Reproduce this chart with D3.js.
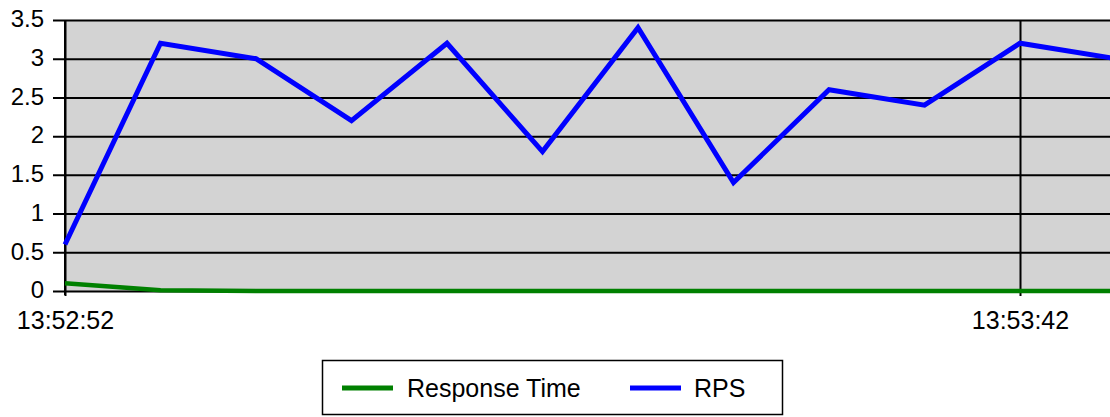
<!DOCTYPE html>
<html>
  <head>
    <meta charset="utf-8">
    <title>Response Time / RPS</title>
    <script src="https://cdn.jsdelivr.net/npm/d3@7/dist/d3.min.js"></script>
    <style>
      body { margin: 0; background: #fff; }
      svg { display: block; font-family: "Liberation Sans", Arial, sans-serif; }
      .grid line { stroke: #000; stroke-width: 2; }
    </style>
  </head>
  <body>
    <svg width="1110" height="417"></svg>
    <script>
      // samples every 5 seconds starting 13:52:52
      var times = ["13:52:52", "13:52:57", "13:53:02", "13:53:07", "13:53:12", "13:53:17",
                   "13:53:22", "13:53:27", "13:53:32", "13:53:37", "13:53:42", "13:53:47"];
      var rps = [0.6, 3.2, 3.0, 2.2, 3.2, 1.8, 3.4, 1.4, 2.6, 2.4, 3.2, 3.0];
      var responseTime = [0.1, 0.01, 0, 0, 0, 0, 0, 0, 0, 0, 0, 0];
      var yTicks = [0, 0.5, 1, 1.5, 2, 2.5, 3, 3.5];
      var xTickLabels = ["13:52:52", "13:53:42"];

      var parse = d3.timeParse("%H:%M:%S");
      var fmt = d3.timeFormat("%H:%M:%S");
      var dates = times.map(parse);

      var svg = d3.select("svg");
      var plotL = 65, plotR = 1115.5, plotT = 20, plotB = 291;

      var x = d3.scaleTime()
          .domain([dates[0], dates[dates.length - 1]])
          .range([plotL, plotR]);
      var y = d3.scaleLinear()
          .domain([0, 3.5])
          .range([plotB, plotT]);

      svg.append("rect")
          .attr("x", plotL).attr("y", plotT)
          .attr("width", plotR - plotL).attr("height", plotB - plotT)
          .attr("fill", "#d3d3d3");

      // horizontal grid + y ticks
      var yAxis = svg.append("g")
          .attr("class", "grid")
          .attr("transform", "translate(" + plotL + ",0)")
          .call(d3.axisLeft(y).tickValues(yTicks).tickSize(-(plotR - plotL)).tickSizeOuter(0).tickFormat(d3.format("")));
      yAxis.select(".domain").remove();
      yAxis.selectAll(".tick line").attr("x1", -12);
      yAxis.selectAll("text")
          .attr("font-size", 24)
          .attr("fill", "#000")
          .attr("dy", "0.28em")
          .attr("x", -21);

      // vertical grid at labelled times + x labels
      var xTicks = xTickLabels.map(parse);
      var xAxis = svg.append("g")
          .attr("class", "grid")
          .attr("transform", "translate(0," + plotB + ")")
          .call(d3.axisBottom(x).tickValues(xTicks).tickSize(5).tickSizeOuter(0).tickFormat(fmt));
      xAxis.select(".domain").remove();
      xAxis.selectAll(".tick line").attr("y1", -(plotB - plotT));
      xAxis.selectAll("text")
          .attr("font-size", 25)
          .attr("fill", "#000")
          .attr("y", 20)
          .attr("dy", "0.71em");

      // left axis line
      svg.append("line")
          .attr("x1", plotL).attr("x2", plotL)
          .attr("y1", plotT).attr("y2", plotB + 4)
          .attr("stroke", "#000").attr("stroke-width", 2);

      var line = function(vals) {
        return d3.line()
            .x(function(d, i) { return x(dates[i]); })
            .y(function(d) { return y(d); })(vals);
      };

      svg.append("path")
          .attr("d", line(responseTime))
          .attr("fill", "none")
          .attr("stroke", "#008000")
          .attr("stroke-width", 4.5);

      svg.append("path")
          .attr("d", line(rps))
          .attr("fill", "none")
          .attr("stroke", "#0000ff")
          .attr("stroke-width", 5)
          .attr("stroke-linejoin", "miter");

      // legend
      var legend = svg.append("g");
      legend.append("rect")
          .attr("x", 322.5).attr("y", 360.5)
          .attr("width", 460).attr("height", 54)
          .attr("fill", "#fff")
          .attr("stroke", "#000").attr("stroke-width", 1.5);

      var items = [
        { name: "Response Time", color: "#008000", x: 342, tx: 407 },
        { name: "RPS", color: "#0000ff", x: 630, tx: 694 }
      ];
      items.forEach(function(it) {
        legend.append("line")
            .attr("x1", it.x).attr("x2", it.x + 51)
            .attr("y1", 388).attr("y2", 388)
            .attr("stroke", it.color).attr("stroke-width", 5);
        legend.append("text")
            .attr("x", it.tx).attr("y", 397)
            .attr("font-size", 25)
            .attr("fill", "#000")
            .text(it.name);
      });
    </script>
  </body>
</html>
